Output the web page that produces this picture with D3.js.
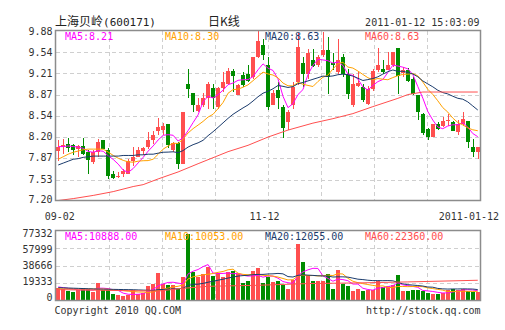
<!DOCTYPE html>
<html>
<head>
<meta charset="utf-8">
<script src="https://cdn.jsdelivr.net/npm/d3@7"></script>
<style>
  html, body { margin: 0; padding: 0; background: #fff; }
  svg { display: block; }
  text { font-family: "DejaVu Sans Mono", monospace; font-size: 10px; fill: #333; }
</style>
</head>
<body>
<svg id="chart" width="505" height="330"></svg>
<script>
// Daily K-line of 上海贝岭 (600171), 2010-09-02 .. 2011-01-12
const opens  = [7.98,8.05,8.09,8.08,8.01,8.06,7.96,7.80,7.96,8.15, 8.00,7.62,7.57,7.62,7.62,7.82,7.88,7.98,8.04,8.15,
                8.29,8.31,8.40,8.00,8.11,7.78,9.04,8.89,8.61,8.71, 8.81,8.97,8.68,8.97,9.04,9.24,8.87,9.18,9.20,9.15,
                9.47,9.65,9.34,8.71,8.94,8.68,8.44,8.70,9.07,9.36, 9.20,9.41,9.33,9.49,9.57,9.36,9.22,9.46,9.20,8.70,
                9.00,8.99,8.72,8.96,9.26,9.28,9.26,9.33,9.61,9.21, 9.26,9.12,8.86,8.57,8.33,8.20,8.41,8.37,8.45,8.44,
                8.28,8.41,8.46,8.05,7.96];
const highs  = [8.16,8.17,8.18,8.09,8.08,8.18,7.99,7.99,8.17,8.15, 8.03,7.67,7.65,7.70,7.85,8.05,8.04,8.05,8.28,8.30,
                8.50,8.42,8.40,8.12,8.12,8.60,9.28,8.89,8.81,8.89, 9.07,9.04,8.99,9.23,9.29,9.28,9.04,9.23,9.33,9.47,
                9.87,9.75,9.47,8.94,9.07,8.70,8.62,9.07,9.84,9.47, 9.59,9.59,9.50,9.86,9.77,9.52,9.75,9.51,9.28,9.20,
                9.22,9.04,9.01,9.28,9.61,9.41,9.54,9.54,9.61,9.30, 9.29,9.14,8.87,8.58,8.35,8.41,8.44,8.51,8.56,8.45,
                8.47,8.59,8.46,8.17,8.05];
const lows   = [7.83,7.94,7.96,7.91,7.88,7.91,7.62,7.78,7.88,8.01, 7.54,7.54,7.55,7.57,7.62,7.74,7.88,7.91,8.01,8.09,
                8.24,8.23,8.03,7.97,7.70,7.77,8.81,8.60,8.60,8.68, 8.65,8.65,8.65,8.91,9.02,8.91,8.86,8.99,9.07,9.12,
                9.44,9.41,8.62,8.70,8.65,8.19,8.31,8.65,9.02,8.99, 9.12,9.31,9.30,9.46,8.88,9.25,9.20,9.14,8.80,8.68,
                8.99,8.75,8.71,8.93,9.22,9.20,9.26,9.30,8.88,9.14, 9.07,8.86,8.47,8.23,8.16,8.20,8.31,8.36,8.37,8.29,
                8.23,8.38,8.02,7.88,7.86];
const closes = [8.04,8.08,8.03,8.00,8.06,7.94,7.84,7.96,8.13,8.01, 7.58,7.56,7.59,7.66,7.82,7.89,8.00,8.03,8.15,8.23,
                8.36,8.37,8.08,8.10,7.78,8.60,8.95,8.71,8.71,8.81, 9.04,8.81,8.97,9.07,9.24,9.17,9.02,9.02,9.08,9.47,
                9.71,9.49,8.68,8.90,8.81,8.34,8.59,8.99,9.62,9.20, 9.52,9.32,9.47,9.57,9.14,9.33,9.41,9.20,8.88,9.04,
                9.05,8.78,8.96,9.24,9.34,9.22,9.33,9.54,9.17,9.25, 9.09,8.88,8.59,8.26,8.20,8.41,8.33,8.46,8.47,8.30,
                8.41,8.49,8.12,7.96,8.05];
const volumes = [14200,13070,10460,9340,11950,14200,13070,9340,19420,11950, 11950,6720,5600,4480,5600,11200,7470,8590,15690,17930,
                 30630,18680,16810,16810,13070,26150,74000,31750,26150,29140, 37360,26900,29890,26150,31750,32870,29140,19420,21660,32870,
                 35490,19420,26150,20540,21660,16810,13070,22410,62760,43000, 28020,21660,21660,21660,29140,12330,33620,18680,15690,10460,
                 12330,10460,11950,11950,21660,15000,16260,16810,28000,10460, 10460,11950,11950,10460,8220,7200,7150,8470,11200,13070,
                 11950,13070,10460,9360,9600];

// Moving-average values for the first days, whose window starts before 09-02
const ma5Lead  = [8.05,8.05,8.06,8.05];
const ma10Lead = [7.85,7.89,7.93,7.96,7.98,8.00,8.01,8.01,8.01];
const ma20Lead = [7.76,7.79,7.82,7.85,7.86,7.88,7.89,7.90,7.90,7.90,7.90,7.90,7.90,7.91,7.91,7.91,7.92,7.92,7.93];
const ma60Days   = [0,3,7,11,15,17,20,24,28,34,38,42,46,51,55,59,63,68,70,73,84];
const ma60Values = [7.20,7.23,7.28,7.34,7.42,7.45,7.54,7.65,7.78,7.97,8.07,8.20,8.31,8.42,8.49,8.57,8.68,8.81,8.87,8.91,8.91];

const volMa5Lead  = [15000,14200,13400,12600];
const volMa10Lead = [13000,12900,12800,12800,12700,12700,12700,12700,12700];
const volMa20Lead = [14200,14000,13800,13600,13400,13200,13000,12800,12600,12500,12400,12300,12200,12100,12000,11900,11700,11500,11300];
const volMa60Days   = [0,10,20,25,30,40,50,60,70,84];
const volMa60Values = [11950,11200,10460,13450,15690,16810,18680,19420,20540,22360];

// Axis ticks, date labels and legend texts
const priceTicks = [9.88,9.54,9.21,8.87,8.54,8.20,7.87,7.53,7.20];
const volumeTicks = [77332,57999,38666,19333,0];
const dateLabels = [{day:0, text:"09-02"}, {day:41, text:"11-12"}, {day:84, text:"2011-01-12"}];
const maNames = ["MA5","MA10","MA20","MA60"];
const priceMaLabels = ["8.21","8.30","8.63","8.63"];
const volumeMaLabels = ["10888.00","10053.00","12055.00","22360.00"];

const RED = "#ff4f4f", GREEN = "#008c00";
const maColors = ["#ff00ff","#ffa200","#1b3b6c","#ff4f4f"];
const GRID = "#cfcfcf", FRAME = "#8c8c8c";

const svg = d3.select("#chart");
const n = closes.length;
const left = 55.5, right = 480.5;
const priceTop = 30.5, priceBottom = 200.5;
const volTop = 230.5, volBottom = 300.5;

const x = d3.scaleBand().domain(d3.range(n)).range([left, right]).paddingInner(0.1).paddingOuter(0.1);
const cx = d => x(d) + x.bandwidth() / 2;
const py = d3.scaleLinear().domain([7.20, 9.88]).range([priceBottom, priceTop]);
const vy = d3.scaleLinear().domain([0, 77332]).range([volBottom, volTop]);
const gridX = d3.scaleLinear().domain([0, 8]).range([left, right]);
const priceLabelY = d3.scaleLinear().domain([7.20, 9.88]).range([199.7, 31.3]);
const volLabelY = d3.scaleLinear().domain([0, 77332]).range([297, 233]);

function movingAverage(values, period, lead) {
  return values.map((_, i) => i < period - 1 ? lead[i] : d3.mean(values.slice(i - period + 1, i + 1)));
}

// ---- header ----
const title = svg.append("text").attr("x", 55).attr("y", 25.5);
title.append("tspan").style("font-family", "'Noto Sans CJK SC'").style("font-size", "12px").style("fill", "#222").text("上海贝岭");
title.append("tspan").style("font-size", "11px").style("fill", "#222").text("(600171)");
svg.append("text").attr("x", 208).attr("y", 25.5)
  .style("font-family", "'Noto Sans CJK SC'").style("font-size", "12px").style("fill", "#222").text("日K线");
svg.append("text").attr("x", 479.5).attr("y", 26).attr("text-anchor", "end").style("fill", "#333").text("2011-01-12 15:03:09");

// ---- grid ----
function grid(top, bottom, ys) {
  const g = svg.append("g").attr("stroke", GRID).attr("stroke-dasharray", "4,3").attr("shape-rendering", "crispEdges");
  g.selectAll(".v").data(d3.range(1, 8)).join("line")
    .attr("x1", i => Math.round(gridX(i)) + 0.5).attr("x2", i => Math.round(gridX(i)) + 0.5)
    .attr("y1", top).attr("y2", bottom);
  g.selectAll(".h").data(ys).join("line")
    .attr("x1", left).attr("x2", right)
    .attr("y1", y => Math.round(y) + 0.5).attr("y2", y => Math.round(y) + 0.5);
}
grid(priceTop, priceBottom, priceTicks.slice(1, -1).map(py));
grid(volTop, volBottom, volumeTicks.slice(1, -1).map(vy));

// ---- candles ----
const days = d3.range(n);
const up = d => closes[d] >= opens[d];
const bx = d => Math.round(x(d));
const cg = svg.append("g").attr("shape-rendering", "crispEdges");
cg.selectAll(".wick").data(days).join("rect")
  .attr("x", d => bx(d) + 2).attr("width", 1)
  .attr("y", d => py(highs[d])).attr("height", d => Math.max(1, py(lows[d]) - py(highs[d])))
  .attr("fill", d => up(d) ? RED : GREEN);
cg.selectAll(".body").data(days).join("rect")
  .attr("x", d => bx(d)).attr("width", 4)
  .attr("y", d => py(Math.max(opens[d], closes[d])))
  .attr("height", d => Math.max(1, Math.abs(py(opens[d]) - py(closes[d]))))
  .attr("fill", d => up(d) ? RED : GREEN);

// ---- price moving averages ----
const line = d3.line().x(p => p[0]).y(p => p[1]);
const priceMAs = [
  movingAverage(closes, 5, ma5Lead).map((v, i) => [cx(i), py(v)]),
  movingAverage(closes, 10, ma10Lead).map((v, i) => [cx(i), py(v)]),
  movingAverage(closes, 20, ma20Lead).map((v, i) => [cx(i), py(v)]),
  ma60Days.map((d, i) => [cx(d), py(ma60Values[i])])
];
svg.append("g").selectAll("path").data(priceMAs).join("path")
  .attr("d", line).attr("fill", "none").attr("stroke-width", 1)
  .attr("stroke", (_, i) => maColors[i]);

// ---- volume bars ----
svg.append("g").attr("shape-rendering", "crispEdges").selectAll("rect").data(days).join("rect")
  .attr("x", d => bx(d)).attr("width", 4)
  .attr("y", d => vy(volumes[d])).attr("height", d => volBottom - vy(volumes[d]))
  .attr("fill", d => up(d) ? RED : GREEN);

const volMAs = [
  movingAverage(volumes, 5, volMa5Lead).map((v, i) => [cx(i), vy(v)]),
  movingAverage(volumes, 10, volMa10Lead).map((v, i) => [cx(i), vy(v)]),
  movingAverage(volumes, 20, volMa20Lead).map((v, i) => [cx(i), vy(v)]),
  volMa60Days.map((d, i) => [cx(d), vy(volMa60Values[i])])
];
svg.append("g").selectAll("path").data(volMAs).join("path")
  .attr("d", line).attr("fill", "none").attr("stroke-width", 1)
  .attr("stroke", (_, i) => maColors[i]);

// ---- frames ----
[[priceTop, priceBottom], [volTop, volBottom]].forEach(([t, b]) => {
  svg.append("rect").attr("x", left).attr("y", t).attr("width", right - left).attr("height", b - t)
    .attr("fill", "none").attr("stroke", FRAME).attr("stroke-width", 1.5);
});

// ---- legends ----
const legendX = [65, 165, 265, 365];
svg.append("g").selectAll("text").data(maNames).join("text")
  .attr("x", (_, i) => legendX[i]).attr("y", 40)
  .style("fill", (_, i) => maColors[i]).text((m, i) => m + ":" + priceMaLabels[i]);
svg.append("g").selectAll("text").data(maNames).join("text")
  .attr("x", (_, i) => legendX[i]).attr("y", 240)
  .style("fill", (_, i) => maColors[i]).text((m, i) => m + ":" + volumeMaLabels[i]);

// ---- axes labels ----
svg.append("g").selectAll("text").data(priceTicks).join("text")
  .attr("x", 52.5).attr("y", v => priceLabelY(v) + 3.6).attr("text-anchor", "end")
  .text(v => v.toFixed(2));
svg.append("g").selectAll("text").data(volumeTicks).join("text")
  .attr("x", 52.5).attr("y", v => volLabelY(v) + 3.6).attr("text-anchor", "end")
  .text(v => String(v));
svg.append("g").selectAll("text").data(dateLabels).join("text")
  .attr("x", (d, i) => i === dateLabels.length - 1 ? 499 : cx(d.day) + 1.5)
  .attr("y", 220)
  .attr("text-anchor", (d, i) => i === dateLabels.length - 1 ? "end" : "middle")
  .text(d => d.text);

// ---- footer ----
svg.append("text").attr("x", 54.5).attr("y", 314).text("Copyright 2010 QQ.COM");
svg.append("text").attr("x", 480.5).attr("y", 314).attr("text-anchor", "end").text("http://stock.qq.com");
</script>
</body>
</html>
